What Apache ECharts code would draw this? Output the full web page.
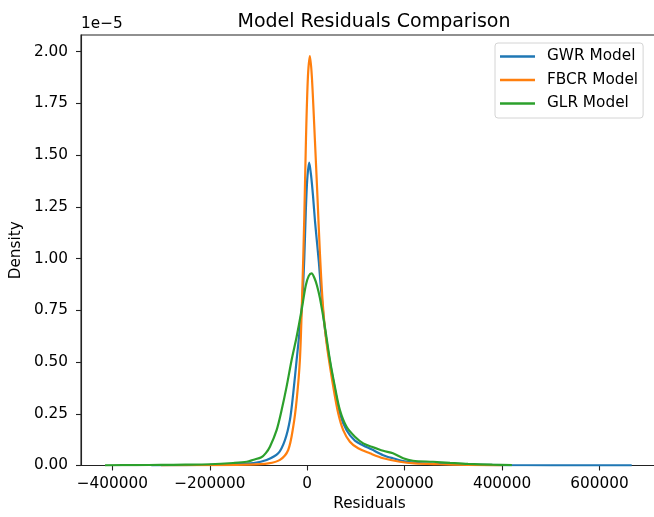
<!DOCTYPE html>
<html>
<head>
<meta charset="utf-8">
<title>Model Residuals Comparison</title>
<script src="https://cdn.jsdelivr.net/npm/echarts@6/dist/echarts.min.js"></script>
<style>
  html, body { margin: 0; padding: 0; background: #fff; }
  #chart { width: 654px; height: 517px; }
</style>
</head>
<body>
<div id="chart"></div>
<script>
// density values are in units of 1e-5
var gwrX = [-320000, -250000, -200000, -150000, -110000, -83300, -59500, -45700, -35500, -28700, -21700, -13500, -10000, -6000, -3000, 0, 4100, 8000, 12000, 16000, 20000, 24000, 28000, 36300, 46600, 56800, 67100, 80800, 97900, 115000, 132000, 156000, 176000, 200000, 230000, 270000, 320000, 400000, 500000, 600000, 666000]
var gwrY = [0.001, 0.002, 0.003, 0.006, 0.012, 0.027, 0.059, 0.123, 0.22, 0.349, 0.51, 0.70, 0.80, 1.0, 1.22, 1.38, 1.463, 1.40, 1.30, 1.18, 1.08, 0.98, 0.86, 0.66, 0.50, 0.37, 0.25, 0.17, 0.12, 0.097, 0.078, 0.05, 0.035, 0.02, 0.012, 0.008, 0.005, 0.002, 0.001, 0.0006, 0.0003]

var fbcrX = [-300000, -200000, -120000, -80000, -56000, -39000, -28700, -21700, -15000, -10000, -6000, -2500, 1500, 5500, 9500, 15800, 21000, 26000, 32000, 39800, 53400, 63600, 73900, 87600, 104600, 128600, 156000, 190000, 220000, 270000, 330000, 400000]
var fbcrY = [0.001, 0.002, 0.004, 0.01, 0.027, 0.075, 0.187, 0.316, 0.51, 0.85, 1.2, 1.58, 1.88, 1.978, 1.88, 1.572, 1.3, 1.03, 0.78, 0.59, 0.381, 0.252, 0.171, 0.115, 0.083, 0.059, 0.035, 0.018, 0.01, 0.006, 0.003, 0.001]

var glrX = [-415000, -350000, -300000, -250000, -200000, -152000, -124000, -110000, -94000, -85000, -76500, -62800, -52500, -42300, -32000, -21700, -11500, -3000, 3000, 9000, 15000, 20000, 26000, 36300, 46600, 56800, 67100, 80800, 97900, 115000, 132000, 156000, 176000, 197000, 217000, 258000, 293000, 330000, 380000, 420000]
var glrY = [0.001, 0.002, 0.003, 0.004, 0.006, 0.012, 0.018, 0.028, 0.04, 0.06, 0.091, 0.171, 0.268, 0.381, 0.51, 0.622, 0.751, 0.87, 0.915, 0.928, 0.905, 0.87, 0.81, 0.67, 0.51, 0.381, 0.268, 0.187, 0.139, 0.107, 0.091, 0.071, 0.059, 0.035, 0.023, 0.018, 0.013, 0.008, 0.004, 0.002]

var xTicks = [-400000, -200000, 0, 200000, 400000, 600000]
var yTicks = [0, 0.25, 0.5, 0.75, 1.0, 1.25, 1.5, 1.75, 2.0]

var font = 'DejaVu Sans'
var labelSize = 15.3

function pairs (xs, ys) {
  var out = []
  for (var i = 0; i < xs.length; i++) {
    out.push([xs[i], ys[i]])
  }
  return out
}

function lineSeries (name, xs, ys, color) {
  return {
    name: name,
    type: 'line',
    data: pairs(xs, ys),
    showSymbol: false,
    smooth: 0.3,
    color: color,
    lineStyle: { width: 2.2, color: color },
    emphasis: { disabled: true },
    animation: false
  }
}

var chart = echarts.init(document.getElementById('chart'), null, { renderer: 'canvas' })
var option = {
  animation: false,
  backgroundColor: '#fff',
  textStyle: { fontFamily: font },
  title: {
    text: 'Model Residuals Comparison',
    left: 369,
    top: 8,
    textAlign: 'center',
    textStyle: { fontFamily: font, fontSize: 19, fontWeight: 'normal', color: '#000' }
  },
  legend: {
    orient: 'vertical',
    left: 495,
    top: 43,
    data: ['GWR Model', 'FBCR Model', 'GLR Model'],
    icon: 'rect',
    itemWidth: 35,
    itemHeight: 2.3,
    itemGap: 8.5,
    padding: [6, 5, 7, 5],
    backgroundColor: 'rgba(255,255,255,0.8)',
    borderColor: '#d4d4d4',
    borderWidth: 1,
    borderRadius: 3,
    textStyle: { fontFamily: font, fontSize: labelSize, color: '#000', padding: [0, 0, 0, 7] }
  },
  grid: {
    left: 81,
    top: 35,
    width: 577,
    height: 430.5,
    show: true,
    borderColor: '#222',
    borderWidth: 1.1,
    containLabel: false,
    outerBoundsMode: 'none'
  },
  xAxis: {
    type: 'value',
    min: -464300,
    max: 720000,
    name: 'Residuals',
    nameLocation: 'middle',
    nameGap: 31.5,
    nameTextStyle: { fontFamily: font, fontSize: labelSize, color: '#000' },
    axisLine: { show: true, onZero: false, lineStyle: { color: '#222', width: 1.1 } },
    axisTick: { show: true, length: 5, customValues: xTicks, lineStyle: { color: '#222', width: 1.1 } },
    axisLabel: {
      customValues: xTicks,
      margin: 11.5,
      fontFamily: font,
      fontSize: labelSize,
      color: '#000',
      formatter: function (v) { return v < 0 ? '\u2212' + Math.abs(v) : String(v) }
    },
    splitLine: { show: false }
  },
  yAxis: {
    type: 'value',
    min: 0,
    max: 2.08,
    name: 'Density',
    nameLocation: 'middle',
    nameGap: 54,
    nameTextStyle: { fontFamily: font, fontSize: labelSize, color: '#000' },
    axisLine: { show: true, onZero: false, lineStyle: { color: '#222', width: 1.1 } },
    axisTick: { show: true, length: 5, customValues: yTicks, lineStyle: { color: '#222', width: 1.1 } },
    axisLabel: {
      customValues: yTicks,
      margin: 13,
      fontFamily: font,
      fontSize: labelSize,
      color: '#000',
      formatter: function (v) { return v.toFixed(2) }
    },
    splitLine: { show: false }
  },
  graphic: [{
    type: 'text',
    left: 81,
    top: 17,
    style: { text: '1e\u22125', fontFamily: font, fontSize: labelSize, fill: '#000' }
  }],
  series: [
    lineSeries('GWR Model', gwrX, gwrY, '#1f77b4'),
    lineSeries('FBCR Model', fbcrX, fbcrY, '#ff7f0e'),
    lineSeries('GLR Model', glrX, glrY, '#2ca02c')
  ]
}
chart.setOption(option)
</script>
</body>
</html>
